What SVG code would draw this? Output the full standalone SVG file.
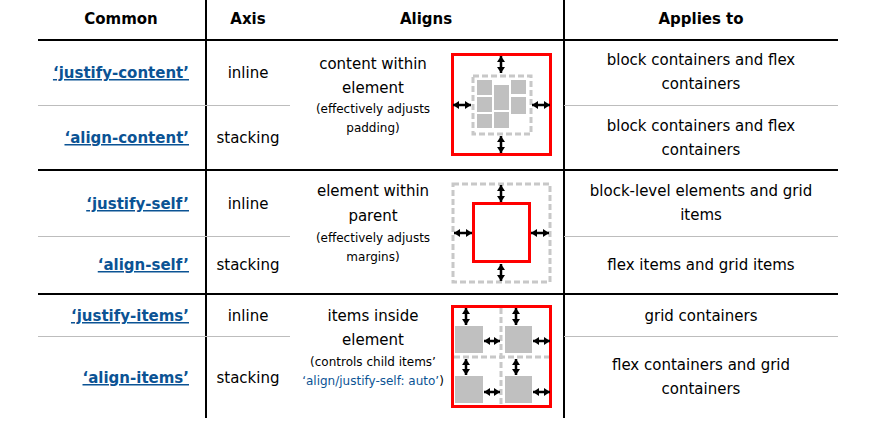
<svg xmlns="http://www.w3.org/2000/svg" width="886" height="423" viewBox="0 0 886 423">
<defs>
<marker id="ah" viewBox="0 0 10 10" refX="10" refY="5" markerUnits="userSpaceOnUse" markerWidth="6" markerHeight="8" orient="auto-start-reverse" preserveAspectRatio="none"><path d="M0,0 L10,5 L0,10 z" fill="#000"/></marker>
<style>
text{font-family:"DejaVu Sans","Liberation Sans",sans-serif;fill:#000}
.h{font-weight:bold;font-size:15px;text-anchor:middle}
.t{font-size:15px;text-anchor:middle}
.s{font-size:12px;text-anchor:middle}
.l{font-size:15px;font-weight:bold;fill:#0b5394;text-decoration:underline;text-anchor:end}
.blk{stroke:#000;stroke-width:2}
.gry{stroke:#bdbdbd;stroke-width:1}
.red{fill:none;stroke:#f00;stroke-width:3}
.dash{fill:none;stroke:#c8c8c8;stroke-width:3;stroke-dasharray:6,3}
.tile{fill:#c0c0c0}
.arr{stroke:#000;stroke-width:2.5;marker-start:url(#ah);marker-end:url(#ah)}
</style>
</defs>
<rect width="886" height="423" fill="#fff"/>
<g id="grid">
<line class="blk" x1="38" y1="40" x2="838" y2="40"/>
<line class="blk" x1="38" y1="170" x2="838" y2="170"/>
<line class="blk" x1="38" y1="294" x2="838" y2="294"/>
<line class="blk" x1="206" y1="0" x2="206" y2="418"/>
<line class="blk" x1="564" y1="0" x2="564" y2="418"/>
<line class="gry" x1="38" y1="105.5" x2="290" y2="105.5"/>
<line class="gry" x1="564" y1="105.5" x2="838" y2="105.5"/>
<line class="gry" x1="38" y1="236.5" x2="290" y2="236.5"/>
<line class="gry" x1="564" y1="236.5" x2="838" y2="236.5"/>
<line class="gry" x1="38" y1="336.5" x2="290" y2="336.5"/>
<line class="gry" x1="564" y1="336.5" x2="838" y2="336.5"/>
</g>
<g id="header">
<text class="h" x="121" y="24">Common</text>
<text class="h" x="248" y="24">Axis</text>
<text class="h" x="426" y="24">Aligns</text>
<text class="h" x="701" y="24">Applies to</text>
</g>
<g id="col-common">
<text class="l" x="189" y="78">‘justify-content’</text>
<text class="l" x="189" y="143">‘align-content’</text>
<text class="l" x="189" y="209">‘justify-self’</text>
<text class="l" x="189" y="270">‘align-self’</text>
<text class="l" x="189" y="321">‘justify-items’</text>
<text class="l" x="189" y="383">‘align-items’</text>
</g>
<g id="col-axis">
<text class="t" x="248" y="78">inline</text>
<text class="t" x="248" y="143">stacking</text>
<text class="t" x="248" y="209">inline</text>
<text class="t" x="248" y="270">stacking</text>
<text class="t" x="248" y="321">inline</text>
<text class="t" x="248" y="383">stacking</text>
</g>
<g id="col-aligns">
<text class="t" x="373" y="69">content within</text>
<text class="t" x="373" y="93">element</text>
<text class="s" x="373" y="113">(effectively adjusts</text>
<text class="s" x="373" y="132">padding)</text>
<text class="t" x="373" y="196">element within</text>
<text class="t" x="373" y="221">parent</text>
<text class="s" x="373" y="242">(effectively adjusts</text>
<text class="s" x="373" y="261">margins)</text>
<text class="t" x="373" y="321">items inside</text>
<text class="t" x="373" y="345">element</text>
<text class="s" x="373" y="366">(controls child items’</text>
<text class="s" x="373" y="385"><tspan fill="#0b5394">‘align/justify-self: auto’</tspan>)</text>
</g>
<g id="icon-content">
<rect class="red" x="452.5" y="54.5" width="98" height="100"/>
<rect class="dash" x="473" y="76" width="58" height="58"/>
<rect class="tile" x="477" y="80" width="15" height="15"/>
<rect class="tile" x="477" y="97" width="15" height="15"/>
<rect class="tile" x="477" y="114" width="15" height="14"/>
<rect class="tile" x="494" y="85" width="15" height="25"/>
<rect class="tile" x="494" y="112" width="15" height="16"/>
<rect class="tile" x="511" y="80" width="15" height="14"/>
<rect class="tile" x="511" y="97" width="15" height="17"/>
</g>
<g id="icon-self">
<rect class="dash" x="453" y="184" width="97" height="98"/>
<rect class="red" x="473.5" y="203.5" width="56" height="58"/>
</g>
<g id="icon-items">
<rect class="red" x="452.5" y="306.5" width="98" height="100"/>
<line class="dash" x1="501" y1="308" x2="501" y2="405"/>
<line class="dash" x1="454" y1="357" x2="549" y2="357"/>
<rect class="tile" x="455" y="326" width="28" height="27"/>
<rect class="tile" x="505" y="326" width="27" height="27"/>
<rect class="tile" x="455" y="376" width="28" height="27"/>
<rect class="tile" x="505" y="376" width="27" height="27"/>
</g>
<g id="connectors">
<line class="arr" x1="501" y1="56" x2="501" y2="73"/>
<line class="arr" x1="501" y1="136" x2="501" y2="153"/>
<line class="arr" x1="453" y1="105" x2="471" y2="105"/>
<line class="arr" x1="532" y1="105" x2="550" y2="105"/>
<line class="arr" x1="501" y1="185" x2="501" y2="202"/>
<line class="arr" x1="501" y1="264" x2="501" y2="281"/>
<line class="arr" x1="454" y1="233" x2="472" y2="233"/>
<line class="arr" x1="531" y1="233" x2="549" y2="233"/>
<line class="arr" x1="466" y1="308" x2="466" y2="325"/>
<line class="arr" x1="516" y1="308" x2="516" y2="325"/>
<line class="arr" x1="466" y1="359" x2="466" y2="375"/>
<line class="arr" x1="516" y1="359" x2="516" y2="375"/>
<line class="arr" x1="484" y1="341" x2="500" y2="341"/>
<line class="arr" x1="533" y1="341" x2="550" y2="341"/>
<line class="arr" x1="484" y1="392" x2="500" y2="392"/>
<line class="arr" x1="533" y1="392" x2="550" y2="392"/>
</g>
<g id="col-applies">
<text class="t" x="701" y="65">block containers and flex</text>
<text class="t" x="701" y="89">containers</text>
<text class="t" x="701" y="131">block containers and flex</text>
<text class="t" x="701" y="155">containers</text>
<text class="t" x="701" y="196">block-level elements and grid</text>
<text class="t" x="701" y="220">items</text>
<text class="t" x="701" y="270">flex items and grid items</text>
<text class="t" x="701" y="321">grid containers</text>
<text class="t" x="701" y="370">flex containers and grid</text>
<text class="t" x="701" y="394">containers</text>
</g>
</svg>
